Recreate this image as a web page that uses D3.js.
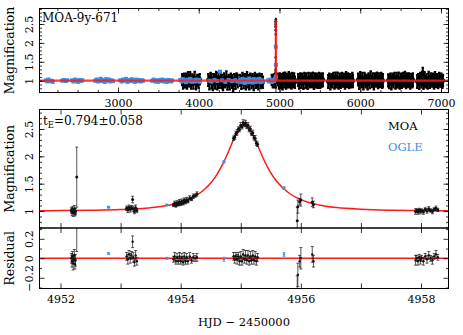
<!DOCTYPE html>
<html>
<head>
<meta charset="utf-8">
<script src="https://cdn.jsdelivr.net/npm/d3@7"></script>
<style>
  body { margin: 0; background: #fff; }
  text { font-family: "DejaVu Serif", serif; }
</style>
</head>
<body>
<div id="chart"></div>
<script>
// ---- data ----
// full light curve, MOA seasons: [HJD-2450000, magnification, error]
var moaS1 = [[3795,1.03,0.15],[3806,0.96,0.17],[3818,1.05,0.14],[3830,0.98,0.16],[3842,1.01,0.18],[3855,0.94,0.15],[3868,1.06,0.17],[3880,0.99,0.14],[3893,1.04,0.19],[3906,0.95,0.16],[3920,1.02,0.15],[3934,0.97,0.18],[3950,1.07,0.17],[3966,0.93,0.16],[3982,1.01,0.15],[3998,0.98,0.17],[4012,1.04,0.14]];
var moaS2 = [[4118,1.02,0.16],[4132,0.95,0.18],[4146,1.06,0.15],[4160,0.99,0.19],[4174,0.92,0.17],[4188,1.04,0.14],[4202,0.97,0.18],[4216,1.08,0.16],[4230,0.94,0.17],[4244,1.01,0.20],[4258,0.96,0.15],[4272,1.05,0.17],[4286,0.98,0.18],[4300,0.91,0.16],[4314,1.03,0.17],[4328,0.97,0.15],[4342,1.06,0.19],[4356,0.93,0.17],[4370,1.00,0.16],[4384,0.95,0.18],[4398,1.04,0.15],[4412,0.98,0.17],[4426,0.90,0.17],[4440,1.02,0.16],[4454,0.96,0.18],[4468,1.05,0.15],[4482,0.99,0.17]];
var moaS3 = [[4514,1.01,0.15],[4528,0.95,0.17],[4542,1.05,0.16],[4556,0.98,0.18],[4570,1.03,0.15],[4584,0.94,0.17],[4598,1.07,0.16],[4612,0.99,0.17],[4626,0.96,0.19],[4640,1.04,0.15],[4654,0.97,0.17],[4668,1.02,0.16],[4682,0.93,0.18],[4696,1.06,0.15],[4710,0.98,0.17],[4724,1.01,0.16],[4738,0.95,0.18],[4752,1.04,0.15],[4766,0.97,0.17],[4780,1.02,0.16],[4794,0.96,0.15]];
var moaS4 = [[4905,1.02,0.14],[4918,0.97,0.15],[4930,1.04,0.13],[4942,0.98,0.16],[4950,1.01,0.14]];
var moaS5 = [[4983,1.03,0.16],[4994,0.96,0.17],[5005,1.05,0.15],[5016,0.98,0.18],[5027,1.02,0.16],[5038,0.94,0.17],[5049,1.06,0.15],[5060,0.99,0.17],[5071,1.03,0.19],[5082,0.95,0.16],[5093,1.01,0.17],[5104,0.97,0.15],[5115,1.05,0.18],[5126,0.98,0.16],[5137,1.02,0.17],[5148,0.94,0.15],[5159,1.04,0.17],[5170,0.99,0.16],[5181,1.02,0.18],[5190,0.96,0.15]];
var moaS6 = [[5231,1.02,0.16],[5244,0.96,0.17],[5257,1.05,0.15],[5270,0.99,0.18],[5283,1.03,0.16],[5296,0.95,0.17],[5309,1.06,0.15],[5322,0.98,0.17],[5335,1.01,0.19],[5348,0.94,0.16],[5361,1.04,0.17],[5374,0.97,0.15],[5387,1.02,0.18],[5400,0.99,0.16],[5413,1.05,0.17],[5426,0.93,0.15],[5439,1.03,0.17],[5452,0.98,0.16],[5465,1.01,0.18],[5478,0.96,0.15],[5491,1.04,0.17],[5504,0.97,0.16],[5517,1.02,0.17],[5530,0.99,0.15],[5537,1.03,0.17]];
var moaS7 = [[5603,0.98,0.17],[5616,1.04,0.15],[5629,0.95,0.18],[5642,1.02,0.16],[5655,0.99,0.17],[5668,1.06,0.15],[5681,0.96,0.17],[5694,1.03,0.19],[5707,0.98,0.16],[5720,1.05,0.17],[5733,0.94,0.15],[5746,1.01,0.18],[5759,0.97,0.16],[5772,1.04,0.17],[5785,0.99,0.15],[5798,1.02,0.17],[5811,0.95,0.16],[5824,1.05,0.18],[5837,0.98,0.15],[5850,1.03,0.17],[5863,0.96,0.16],[5876,1.01,0.17],[5889,0.97,0.15],[5902,1.04,0.17],[5908,0.99,0.16]];
var moaS8 = [[5974,1.03,0.16],[5987,0.96,0.18],[6000,1.06,0.17],[6013,0.98,0.15],[6026,1.02,0.19],[6039,0.94,0.17],[6052,1.05,0.16],[6065,0.99,0.17],[6078,1.01,0.15],[6091,0.95,0.18],[6104,1.04,0.16],[6117,0.97,0.17],[6130,1.08,0.17],[6143,0.98,0.15],[6156,1.02,0.18],[6169,0.93,0.16],[6182,1.03,0.17],[6195,0.99,0.15],[6208,1.05,0.17],[6221,0.96,0.16],[6234,1.02,0.18],[6247,0.98,0.15],[6260,1.04,0.17],[6273,0.97,0.16],[6280,1.01,0.17]];
var moaS9 = [[6346,1.01,0.16],[6359,0.97,0.17],[6372,1.04,0.15],[6385,0.95,0.18],[6398,1.03,0.16],[6411,0.99,0.17],[6424,1.06,0.15],[6437,0.96,0.17],[6450,1.02,0.19],[6463,0.98,0.16],[6476,1.05,0.17],[6489,0.94,0.15],[6502,1.01,0.18],[6515,0.97,0.16],[6528,1.04,0.17],[6541,0.99,0.15],[6554,1.07,0.17],[6567,0.96,0.16],[6580,1.02,0.18],[6593,0.98,0.15],[6606,1.03,0.17],[6619,0.95,0.16],[6632,1.01,0.17],[6645,0.97,0.15],[6651,1.03,0.17]];
var moaS10 = [[6705,0.98,0.17],[6718,1.03,0.15],[6731,0.96,0.18],[6744,1.05,0.16],[6757,0.99,0.17],[6770,1.02,0.15],[6774,1.22,0.12],[6783,0.95,0.17],[6796,1.04,0.19],[6809,0.98,0.16],[6822,1.01,0.17],[6835,0.94,0.15],[6848,1.06,0.18],[6861,0.97,0.16],[6874,1.03,0.17],[6887,0.99,0.15],[6900,1.02,0.17],[6913,0.95,0.16],[6926,1.05,0.18],[6939,0.98,0.15],[6952,1.01,0.17],[6965,0.96,0.16],[6978,1.04,0.17],[6991,0.99,0.15],[7004,1.02,0.17],[7017,0.97,0.16],[7024,1.01,0.15]];

// full light curve, OGLE seasons
var ogleS1 = [[2110,1.01,0.04],[2125,0.98,0.04],[2140,1.03,0.05],[2160,0.99,0.04],[2180,1.00,0.04],[2192,0.97,0.05]];
var ogleS2 = [[2310,1.00,0.04],[2330,1.02,0.04],[2350,0.99,0.05],[2370,1.01,0.04]];
var ogleS3 = [[2432,1.01,0.04],[2450,0.98,0.05],[2468,1.03,0.04],[2486,1.00,0.04],[2504,0.97,0.05],[2522,1.02,0.04],[2540,0.99,0.04],[2558,1.01,0.05]];
var ogleS4 = [[2718,1.00,0.04],[2735,1.03,0.05],[2752,0.98,0.04],[2769,1.02,0.04],[2786,1.05,0.05],[2803,0.99,0.04],[2820,1.02,0.04],[2837,0.97,0.05],[2854,1.04,0.04],[2871,1.00,0.04],[2888,1.03,0.05],[2905,0.98,0.04],[2922,1.01,0.04],[2936,0.99,0.05]];
var ogleS5 = [[3028,1.01,0.04],[3046,0.98,0.05],[3064,1.03,0.04],[3082,1.00,0.04],[3100,1.05,0.05],[3118,0.97,0.04],[3136,1.02,0.04],[3154,0.99,0.05],[3172,1.04,0.04],[3190,1.00,0.04],[3208,0.97,0.05],[3226,1.03,0.04],[3244,0.99,0.04],[3262,1.02,0.05],[3280,0.98,0.04],[3298,1.01,0.04],[3308,1.00,0.05]];
var ogleS6 = [[3424,1.00,0.04],[3442,1.03,0.04],[3460,0.98,0.05],[3478,1.01,0.04],[3496,0.97,0.04],[3514,1.02,0.05],[3532,0.99,0.04],[3550,1.03,0.04],[3568,0.98,0.05],[3586,1.01,0.04],[3604,0.97,0.04],[3622,1.02,0.05],[3640,1.00,0.04],[3658,0.98,0.04],[3667,1.01,0.05]];
var ogleS7 = [[3770,1.02,0.04],[3788,0.98,0.05],[3806,1.04,0.04],[3824,1.00,0.04],[3842,0.96,0.05],[3860,1.03,0.04],[3878,0.99,0.04],[3896,1.05,0.05],[3914,0.97,0.04],[3932,1.01,0.04],[3950,0.98,0.05],[3968,1.03,0.04],[3986,0.99,0.04],[4004,1.02,0.05],[4013,0.97,0.04]];
var ogleS8 = [[4130,1.00,0.04],[4160,0.98,0.05],[4195,1.02,0.04],[4230,0.99,0.04],[4263,1.24,0.04],[4290,1.01,0.04],[4330,0.97,0.05],[4370,1.02,0.04],[4410,0.99,0.04],[4450,1.01,0.05],[4480,0.98,0.04]];
var ogleS9 = [[4513,1.02,0.05],[4527,0.97,0.05],[4541,1.05,0.04],[4555,0.99,0.05],[4569,0.94,0.05],[4583,1.03,0.04],[4597,1.00,0.05],[4611,0.96,0.05],[4625,1.06,0.04],[4639,0.98,0.05],[4653,1.02,0.05],[4667,0.95,0.04],[4681,1.04,0.05],[4695,1.00,0.05],[4709,0.97,0.04],[4723,1.03,0.05],[4737,0.99,0.05],[4751,1.05,0.04],[4765,0.96,0.05],[4779,1.01,0.05],[4793,0.98,0.04]];
var ogleS10 = [[4860,1.01,0.04],[4872,0.98,0.05],[4884,1.03,0.04],[4896,1.00,0.04],[4908,0.97,0.05],[4920,1.02,0.04],[4932,0.99,0.04],[4944,1.04,0.05]];

// event close-up: [HJD-2450000, magnification, error, residual]
var moaEvent = [
  [4952.18,1.01,0.05,0.00],[4952.19,0.98,0.06,-0.03],[4952.20,1.03,0.05,0.02],[4952.21,0.97,0.07,-0.05],
  [4952.22,1.00,0.05,-0.01],[4952.23,1.04,0.06,0.03],[4952.24,0.96,0.05,-0.06],[4952.25,0.99,0.06,-0.02],
  [4952.27,1.62,0.55,0.62],
  [4953.10,1.05,0.04,0.02],[4953.12,1.02,0.05,-0.01],[4953.14,1.07,0.04,0.04],[4953.16,1.03,0.05,0.00],
  [4953.18,1.06,0.04,0.03],[4953.20,1.21,0.06,0.17],[4953.21,1.04,0.05,0.01],[4953.23,0.99,0.04,-0.04],
  [4953.25,1.06,0.05,0.03],[4953.27,1.01,0.04,-0.03],
  [4953.88,1.11,0.03,-0.01],[4953.90,1.14,0.04,0.02],[4953.92,1.10,0.03,-0.03],[4953.94,1.15,0.04,0.01],
  [4953.96,1.12,0.03,-0.03],[4953.98,1.17,0.04,0.02],[4954.00,1.13,0.03,-0.03],[4954.02,1.18,0.04,0.01],
  [4954.04,1.14,0.03,-0.04],[4954.06,1.20,0.04,0.02],[4954.08,1.16,0.03,-0.03],[4954.10,1.21,0.04,0.01],
  [4954.12,1.18,0.03,-0.03],[4954.15,1.24,0.04,0.02],[4954.18,1.22,0.03,-0.02],[4954.21,1.27,0.04,0.01],
  [4954.24,1.28,0.03,0.00],[4954.27,1.31,0.04,0.01],
  [4954.88,2.33,0.04,0.02],[4954.90,2.35,0.04,-0.01],[4954.92,2.42,0.04,0.02],[4954.94,2.44,0.05,-0.01],
  [4954.96,2.50,0.04,0.02],[4954.98,2.49,0.04,-0.03],[4955.00,2.57,0.05,0.02],[4955.02,2.54,0.04,-0.03],
  [4955.04,2.62,0.05,0.04],[4955.06,2.58,0.04,-0.01],[4955.08,2.61,0.05,0.03],[4955.10,2.55,0.04,-0.02],
  [4955.12,2.57,0.05,0.03],[4955.14,2.49,0.04,-0.03],[4955.16,2.50,0.05,0.02],[4955.18,2.42,0.04,-0.02],
  [4955.20,2.43,0.05,0.03],[4955.22,2.34,0.04,-0.02],[4955.24,2.33,0.05,0.02],[4955.26,2.24,0.04,-0.03],
  [4955.28,2.22,0.04,0.01],
  [4955.94,0.82,0.25,-0.43],[4955.95,1.08,0.12,-0.17],[4955.98,1.17,0.06,-0.03],[4956.00,1.20,0.11,0.00],
  [4956.19,1.16,0.08,0.04],[4956.21,1.12,0.06,-0.03],
  [4957.91,0.99,0.05,-0.02],[4957.93,1.01,0.03,0.00],[4957.95,0.98,0.04,-0.03],[4957.97,1.02,0.03,0.01],
  [4957.99,0.99,0.04,-0.02],[4958.01,1.01,0.03,0.00],[4958.04,0.98,0.04,-0.03],[4958.07,1.03,0.03,0.02],
  [4958.10,1.00,0.04,-0.01],[4958.13,1.04,0.04,0.03],[4958.16,1.01,0.03,0.00],[4958.19,0.99,0.04,-0.02],
  [4958.22,1.03,0.03,0.02],[4958.25,1.05,0.04,0.04],[4958.28,1.02,0.03,0.01]
];
var ogleEvent = [[4952.80,1.07,0.01,0.05],[4953.77,1.11,0.01,0.00],[4954.72,1.90,0.02,-0.01],[4955.72,1.42,0.02,0.04]];

// best-fit model (tE = 0.794 d)
var modelT = [2000, 4951.6, 4952.0, 4952.5, 4953.0, 4953.5, 4953.8, 4954.0, 4954.2, 4954.4, 4954.5, 4954.6, 4954.7,
  4954.8, 4954.9, 4955.0, 4955.06, 4955.1, 4955.2, 4955.3, 4955.4, 4955.5, 4955.6, 4955.8, 4956.0, 4956.3,
  4956.6, 4957.0, 4957.5, 4958.0, 4958.5, 7100];
var modelA = [1.000, 1.004, 1.007, 1.013, 1.026, 1.060, 1.106, 1.160, 1.249, 1.399, 1.513, 1.662, 1.857,
  2.097, 2.357, 2.552, 2.590, 2.573, 2.405, 2.149, 1.901, 1.697, 1.539, 1.329, 1.207, 1.110,
  1.062, 1.032, 1.015, 1.008, 1.005, 1.000];

// tick labels
var topXTicks = [3000, 4000, 5000, 6000, 7000];
var magTicks = [1, 1.5, 2, 2.5];
var midXTicks = [4952, 4953, 4954, 4955, 4956, 4957, 4958];
var midXLabels = [4952, 4954, 4956, 4958];
var resTicks = [-0.2, 0, 0.2];
var resTickLabels = ["\u22120.2", "0", "0.2"];

// ---- layout ----
var w = 463, h = 335;
var left = 39.5, right = 448.5;
var topY0 = 8.5, topY1 = 92.5;
var midY0 = 109.5, midY1 = 228;
var resY0 = 228, resY1 = 288.5;
var blue = "#3b8ee6";
var red = "#ff1a1a";

var svg = d3.select("#chart").append("svg")
  .attr("width", w)
  .attr("height", h);

var xTop = d3.scaleLinear().domain([2028, 7093]).range([left, right]);
var yTop = d3.scaleLinear().domain([0.688, 2.91]).range([topY1, topY0]);
var xMid = d3.scaleLinear().domain([4951.65, 4958.458]).range([left, right]);
var yMid = d3.scaleLinear().domain([0.689, 2.857]).range([midY1, midY0]);
var yRes = d3.scaleLinear().domain([-0.31, 0.311]).range([resY1, resY0]);

// clip regions for each panel
var defs = svg.append("defs");
function addClip(id, y0, y1) {
  defs.append("clipPath").attr("id", id)
    .append("rect").attr("x", left).attr("y", y0).attr("width", right - left).attr("height", y1 - y0);
}
addClip("clipTop", topY0, topY1);
addClip("clipMid", midY0, midY1);
addClip("clipRes", resY0, resY1);

// error bars + markers
function drawSet(g, data, x, y, yi, color, r, cap, square, sw) {
  g.selectAll(null).data(data).enter().append("line")
    .attr("x1", function(d) { return x(d[0]); })
    .attr("x2", function(d) { return x(d[0]); })
    .attr("y1", function(d) { return y(d[yi] - d[2]); })
    .attr("y2", function(d) { return y(d[yi] + d[2]); })
    .attr("stroke", color)
    .attr("stroke-width", sw);
  if (cap > 0) {
    [-1, 1].forEach(function(s) {
      g.selectAll(null).data(data).enter().append("line")
        .attr("x1", function(d) { return x(d[0]) - cap; })
        .attr("x2", function(d) { return x(d[0]) + cap; })
        .attr("y1", function(d) { return y(d[yi] + s * d[2]); })
        .attr("y2", function(d) { return y(d[yi] + s * d[2]); })
        .attr("stroke", color)
        .attr("stroke-width", sw);
    });
  }
  if (square) {
    g.selectAll(null).data(data).enter().append("rect")
      .attr("x", function(d) { return x(d[0]) - r; })
      .attr("y", function(d) { return y(d[yi]) - r; })
      .attr("width", 2 * r)
      .attr("height", 2 * r)
      .attr("fill", color);
  } else {
    g.selectAll(null).data(data).enter().append("circle")
      .attr("cx", function(d) { return x(d[0]); })
      .attr("cy", function(d) { return y(d[yi]); })
      .attr("r", r)
      .attr("fill", color);
  }
}

// ---- top panel: full light curve ----
var gTop = svg.append("g").attr("clip-path", "url(#clipTop)");
[moaS1, moaS2, moaS3, moaS4, moaS5, moaS6, moaS7, moaS8, moaS9, moaS10].forEach(function(s) {
  drawSet(gTop, s, xTop, yTop, 1, "#000", 2.2, 1.2, false, 2);
});
drawSet(gTop, moaEvent, xTop, yTop, 1, "#000", 1.2, 0, false, 0.8);
[ogleS1, ogleS2, ogleS3, ogleS4, ogleS5, ogleS6, ogleS7, ogleS8, ogleS9, ogleS10, ogleEvent].forEach(function(s) {
  drawSet(gTop, s, xTop, yTop, 1, blue, 2, 0, true, 1.6);
});

var modelPts = modelT.map(function(t, i) { return [t, modelA[i]]; });

gTop.append("path")
  .datum(modelPts)
  .attr("fill", "none")
  .attr("stroke", red)
  .attr("stroke-opacity", 0.85)
  .attr("stroke-width", 2.2)
  .attr("d", d3.line()
    .x(function(d) { return xTop(d[0]); })
    .y(function(d) { return yTop(d[1]); })
    .curve(d3.curveMonotoneX));

// ---- middle panel: event ----
var gMid = svg.append("g").attr("clip-path", "url(#clipMid)");
gMid.append("path")
  .datum(modelPts)
  .attr("fill", "none")
  .attr("stroke", red)
  .attr("stroke-width", 1.5)
  .attr("d", d3.line()
    .x(function(d) { return xMid(d[0]); })
    .y(function(d) { return yMid(d[1]); })
    .curve(d3.curveMonotoneX));
drawSet(gMid, moaEvent, xMid, yMid, 1, "#111", 1.5, 1.5, false, 0.7);
drawSet(gMid, ogleEvent, xMid, yMid, 1, blue, 1.4, 1.5, true, 0.7);

// ---- residual panel ----
var gRes = svg.append("g").attr("clip-path", "url(#clipRes)");
gRes.append("line")
  .attr("x1", left).attr("x2", right)
  .attr("y1", yRes(0)).attr("y2", yRes(0))
  .attr("stroke", red)
  .attr("stroke-width", 1.5);
drawSet(gRes, moaEvent, xMid, yRes, 3, "#111", 1.2, 1.5, false, 0.7);
drawSet(gRes, ogleEvent, xMid, yRes, 3, blue, 1.1, 1.5, true, 0.7);

// ---- axes / frames ----
function tickGroup(axis, transform, values, size, fmt) {
  var g = svg.append("g")
    .attr("transform", transform)
    .call(axis.tickValues(values).tickSize(-size).tickPadding(6.5).tickFormat(fmt));
  g.select(".domain").remove();
  g.selectAll("line").attr("stroke-width", 0.8);
  g.selectAll("text")
    .style("font-family", "'DejaVu Serif', serif")
    .style("font-size", "11px")
    .attr("fill", "#000");
  return g;
}
function rotateY(g) {
  g.selectAll(".tick text")
    .attr("x", 0)
    .attr("dy", null)
    .attr("text-anchor", "middle")
    .attr("transform", "translate(-6.5,0) rotate(-90)");
}
var none = function() { return ""; };

function frame(y0, y1) {
  svg.append("rect")
    .attr("x", left).attr("y", y0)
    .attr("width", right - left).attr("height", y1 - y0)
    .attr("fill", "none").attr("stroke", "#000").attr("stroke-width", 1);
}

// top panel axes
var topMinorX = d3.range(2250, 7100, 250);
var magMinor = d3.range(0.7, 2.95, 0.1);
tickGroup(d3.axisBottom(xTop), "translate(0," + topY1 + ")", topXTicks, 5, d3.format("d"));
tickGroup(d3.axisBottom(xTop), "translate(0," + topY1 + ")", topMinorX, 2.5, none);
tickGroup(d3.axisTop(xTop), "translate(0," + topY0 + ")", topXTicks, 5, none);
tickGroup(d3.axisTop(xTop), "translate(0," + topY0 + ")", topMinorX, 2.5, none);
rotateY(tickGroup(d3.axisLeft(yTop), "translate(" + left + ",0)", magTicks, 5, d3.format("")));
tickGroup(d3.axisLeft(yTop), "translate(" + left + ",0)", magMinor.filter(function(v) { return v < 2.91; }), 2.5, none);
tickGroup(d3.axisRight(yTop), "translate(" + right + ",0)", magTicks, 5, none);
tickGroup(d3.axisRight(yTop), "translate(" + right + ",0)", magMinor.filter(function(v) { return v < 2.91; }), 2.5, none);
frame(topY0, topY1);

// middle panel axes
var midMinor = magMinor.filter(function(v) { return v < 2.85; });
tickGroup(d3.axisTop(xMid), "translate(0," + midY0 + ")", midXTicks, 5, none);
tickGroup(d3.axisBottom(xMid), "translate(0," + midY1 + ")", midXTicks, 5, none);
rotateY(tickGroup(d3.axisLeft(yMid), "translate(" + left + ",0)", magTicks, 5, d3.format("")));
tickGroup(d3.axisLeft(yMid), "translate(" + left + ",0)", midMinor, 2.5, none);
tickGroup(d3.axisRight(yMid), "translate(" + right + ",0)", magTicks, 5, none);
tickGroup(d3.axisRight(yMid), "translate(" + right + ",0)", midMinor, 2.5, none);
frame(midY0, midY1);

// residual panel axes
var resMinor = [-0.3, -0.1, 0.1, 0.3];
tickGroup(d3.axisTop(xMid), "translate(0," + resY0 + ")", midXTicks, 5, none);
tickGroup(d3.axisBottom(xMid), "translate(0," + resY1 + ")", midXTicks, 5, function(d) {
  return midXLabels.indexOf(d) >= 0 ? d : "";
});
rotateY(tickGroup(d3.axisLeft(yRes), "translate(" + left + ",0)", resTicks, 5, function(d, i) {
  return resTickLabels[i];
}));
tickGroup(d3.axisLeft(yRes), "translate(" + left + ",0)", resMinor, 2.5, none);
tickGroup(d3.axisRight(yRes), "translate(" + right + ",0)", resTicks, 5, none);
tickGroup(d3.axisRight(yRes), "translate(" + right + ",0)", resMinor, 2.5, none);
frame(resY0, resY1);

// ---- titles and labels ----
function yTitle(txt, cy) {
  svg.append("text")
    .attr("transform", "translate(14," + cy + ") rotate(-90)")
    .attr("text-anchor", "middle")
    .style("font-size", "12.5px")
    .text(txt);
}
yTitle("Magnification", (topY0 + topY1) / 2);
yTitle("Magnification", (midY0 + midY1) / 2);
yTitle("Residual", (resY0 + resY1) / 2);

svg.append("text")
  .attr("x", (left + right) / 2)
  .attr("y", 326)
  .attr("text-anchor", "middle")
  .style("font-size", "11.5px")
  .text("HJD \u2212 2450000");

svg.append("text")
  .attr("x", 42)
  .attr("y", 22)
  .style("font-size", "12px")
  .text("MOA-9y-671");

var te = svg.append("text")
  .attr("x", 43)
  .attr("y", 125)
  .style("font-size", "12px");
te.append("tspan").text("t");
te.append("tspan").attr("dy", 3).style("font-size", "8.5px").text("E");
te.append("tspan").attr("dy", -3).text("=0.794\u00b10.058");

svg.append("text")
  .attr("x", 388)
  .attr("y", 130)
  .style("font-size", "11.5px")
  .text("MOA");
svg.append("text")
  .attr("x", 388)
  .attr("y", 151)
  .style("font-size", "11.5px")
  .attr("fill", blue)
  .text("OGLE");
</script>
</body>
</html>
